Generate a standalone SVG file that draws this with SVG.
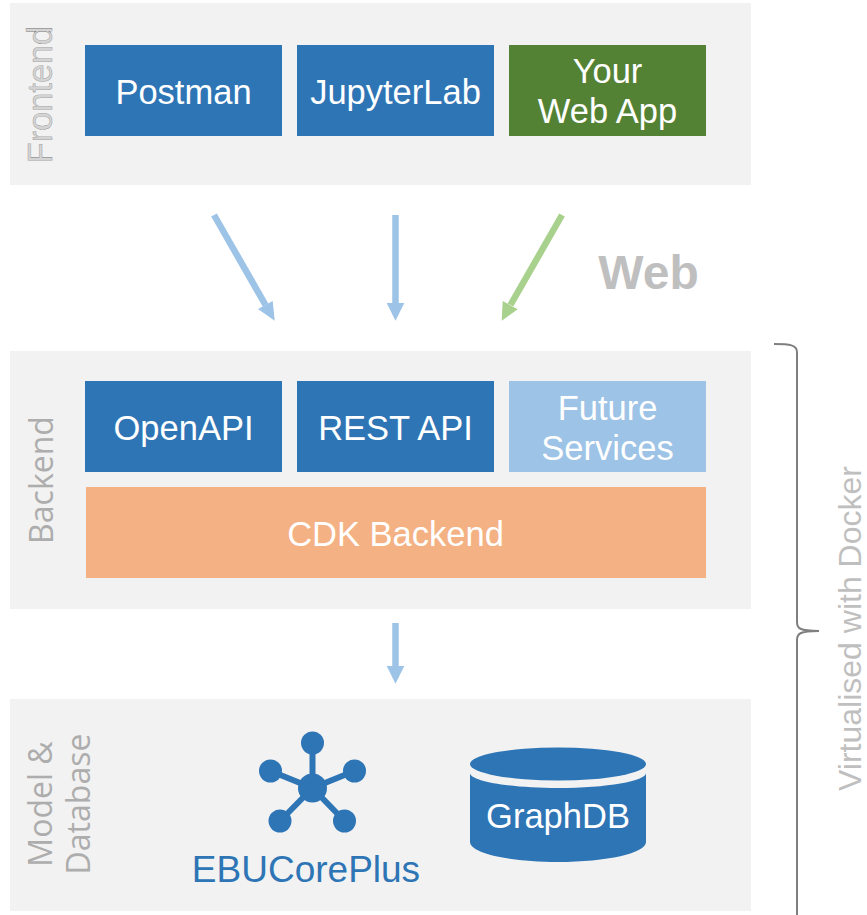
<svg xmlns="http://www.w3.org/2000/svg" width="867" height="915" viewBox="0 0 867 915">
<style>
text{font-family:"Liberation Sans",Arial,sans-serif}
.panel{fill:#f2f2f2}
.lbl{fill:#fff;font-size:34.500px;text-anchor:middle}
.side{fill:#adadad;font-size:32px;text-anchor:middle;font-family:"Open Sans",sans-serif}
.blue{fill:#2e75b6}
.sb{stroke:#9dc3e6;stroke-width:6.500;fill:none}
.hb{fill:#9dc3e6}
.hg{fill:#a9d18e}
</style>
<rect width="867" height="915" fill="#fff"/>
<g id="frontend-panel"><rect class="panel" x="10" y="3" width="741" height="182"/>
<text transform="translate(52 94.500) rotate(-90)" font-size="34.300" text-anchor="middle" style="fill:#d4d4d4;stroke:#777;stroke-width:.3px">Frontend</text></g>
<g id="postman"><rect class="blue" x="85" y="45" width="197" height="91"/><text class="lbl" x="183.500" y="104">Postman</text></g>
<g id="jupyterlab"><rect class="blue" x="297" y="45" width="197" height="91"/><text class="lbl" x="395.500" y="104">JupyterLab</text></g>
<g id="webapp"><rect x="509" y="45" width="197" height="91" fill="#548235"/><text class="lbl" x="607.500" y="83">Your</text><text class="lbl" x="607.500" y="123">Web App</text></g>
<g id="connectors">
<path class="sb" d="M214 215L265.500 305"/><polygon class="hb" points="258,309 272.700,301 274.700,320.700"/>
<path class="sb" d="M395.500 215V304"/><polygon class="hb" points="386.700,303 404.300,303 395.500,320.700"/>
<path d="M562 215L510.500 305" stroke="#a9d18e" stroke-width="6.500" fill="none"/><polygon class="hg" points="517.700,309.300 502.700,301 501.700,320.700"/>
<path class="sb" d="M395.500 623V667"/><polygon class="hb" points="386.700,666 404.300,666 395.500,683.700"/>
</g>
<g id="web"><text x="648.500" y="289" font-size="48" font-weight="bold" fill="#bfbfbf" text-anchor="middle">Web</text></g>
<g id="backend-panel"><rect class="panel" x="10" y="351" width="741" height="258"/>
<text class="side" transform="translate(52.500 480) rotate(-90)">Backend</text></g>
<g id="openapi"><rect class="blue" x="85" y="381" width="197" height="91"/><text class="lbl" x="183.500" y="440">OpenAPI</text></g>
<g id="restapi"><rect class="blue" x="297" y="381" width="197" height="91"/><text class="lbl" x="395.500" y="440">REST API</text></g>
<g id="future"><rect x="509" y="381" width="197" height="91" fill="#9dc3e6"/><text class="lbl" x="607.500" y="420">Future</text><text class="lbl" x="607.500" y="460">Services</text></g>
<g id="cdk"><rect x="86" y="487" width="620" height="91" fill="#f4b183"/><text class="lbl" x="395.500" y="546">CDK Backend</text></g>
<g id="model-panel"><rect class="panel" x="10" y="699" width="741" height="212"/>
<text class="side" transform="translate(52 804) rotate(-90)">Model &amp;</text>
<text class="side" transform="translate(90 804) rotate(-90)">Database</text></g>
<g id="ebucoreplus">
<path d="M312.500 788V743M312.500 788L270.500 771M312.500 788L354.500 771M312.500 788L280 821M312.500 788L344.500 821" stroke="#2e75b6" stroke-width="6" fill="none"/>
<circle class="blue" cx="312.500" cy="788" r="14.500"/><circle class="blue" cx="312.500" cy="743" r="11.500"/><circle class="blue" cx="270.500" cy="771" r="11.500"/><circle class="blue" cx="354.500" cy="771" r="11.500"/><circle class="blue" cx="280" cy="821" r="11.500"/><circle class="blue" cx="344.500" cy="821" r="11.500"/>
<text x="306" y="882" font-size="37" fill="#2e75b6" text-anchor="middle">EBUCorePlus</text></g>
<g id="graphdb">
<path class="blue" d="M470 773V842C470 853 509 862 558 862C607 862 646 853 646 842V773C646 781 607 788 558 788C509 788 470 781 470 773Z"/>
<ellipse class="blue" cx="558" cy="764" rx="88" ry="16.500"/>
<text class="lbl" x="558" y="828">GraphDB</text></g>
<g id="brace"><path d="M774 344C790 344 797 345 797 352V622C797 628 799 631 819 631C799 631 797 634 797 640V915" fill="none" stroke="#7f7f7f" stroke-width="2"/></g>
<g id="docker"><text transform="translate(861 628.500) rotate(-90)" font-size="32" fill="#bfbfbf" text-anchor="middle">Virtualised with Docker</text></g>
</svg>
